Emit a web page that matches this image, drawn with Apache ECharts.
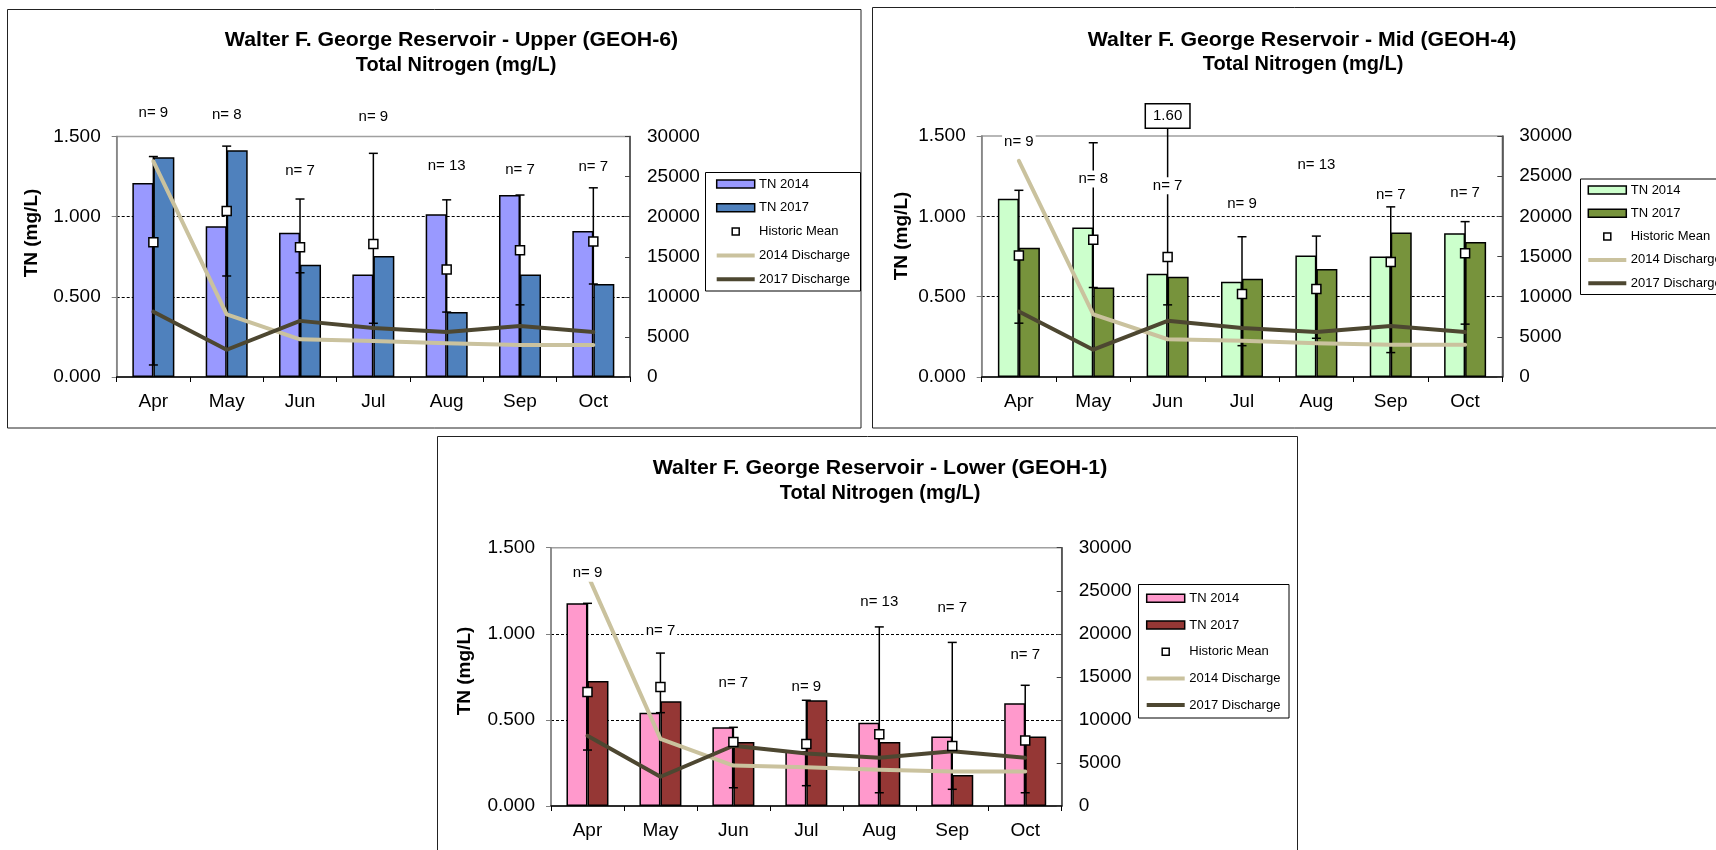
<!DOCTYPE html>
<html>
<head>
<meta charset="utf-8">
<title>Walter F. George Reservoir - Total Nitrogen</title>
<script src="https://cdn.jsdelivr.net/npm/echarts@6/dist/echarts.min.js"></script>
<style>
  html, body { margin: 0; padding: 0; background: #fff; }
  .layer { position: absolute; left: 0; top: 0; width: 1716px; height: 850px; }
</style>
</head>
<body>
<div id="upper" class="layer"></div>
<div id="mid" class="layer"></div>
<div id="lower" class="layer"></div>
<script>
// ---- shared categories and axis ticks ----
const months = ['Apr', 'May', 'Jun', 'Jul', 'Aug', 'Sep', 'Oct'];
const tnTicks = [0, 0.5, 1.0, 1.5];
const dischargeTicks = [0, 5000, 10000, 15000, 20000, 25000, 30000];
const seriesNames = ['TN 2014', 'TN 2017', 'Historic Mean', '2014 Discharge', '2017 Discharge'];

// ---- discharge (same for all three stations) ----
const discharge2014 = [26900, 7800, 4700, 4500, 4200, 4000, 4000];
const discharge2017 = [8150, 3400, 7000, 6100, 5600, 6350, 5600];

// ---- Upper (GEOH-6) ----
const upperTN2014 = [1.21, 0.94, 0.90, 0.64, 1.015, 1.135, 0.91];
const upperTN2017 = [1.37, 1.415, 0.70, 0.755, 0.405, 0.64, 0.58];
const upperMean = [0.84, 1.035, 0.81, 0.83, 0.67, 0.79, 0.845];
const upperMin = [0.075, 0.63, 0.65, 0.335, 0.405, 0.45, 0.58];
const upperMax = [1.375, 1.44, 1.11, 1.395, 1.105, 1.135, 1.18];
const upperN = [9, 8, 7, 9, 13, 7, 7];
const upperNLabelAt = [1.65, 1.635, 1.285, 1.62, 1.315, 1.29, 1.31];

// ---- Mid (GEOH-4) ----
const midTN2014 = [1.11, 0.93, 0.643, 0.593, 0.757, 0.75, 0.895];
const midTN2017 = [0.805, 0.557, 0.624, 0.611, 0.672, 0.90, 0.84];
const midMean = [0.757, 0.855, 0.747, 0.516, 0.547, 0.715, 0.77];
const midMin = [0.335, 0.557, 0.449, 0.195, 0.241, 0.152, 0.329];
const midMax = [1.162, 1.458, 1.60, 0.873, 0.877, 1.059, 0.967];
const midN = [9, 8, 7, 9, 13, 7, 7];
const midNLabelAt = [1.462, 1.233, 1.191, 1.077, 1.321, 1.135, 1.146];

// ---- Lower (GEOH-1) ----
const lowerTN2014 = [1.177, 0.542, 0.457, 0.319, 0.484, 0.403, 0.596];
const lowerTN2017 = [0.726, 0.608, 0.372, 0.614, 0.372, 0.18, 0.403];
const lowerMean = [0.662, 0.691, 0.372, 0.36, 0.416, 0.348, 0.381];
const lowerMin = [0.325, 0.542, 0.106, 0.118, 0.077, 0.097, 0.077];
const lowerMax = [1.177, 0.888, 0.457, 0.614, 1.04, 0.95, 0.701];
const lowerN = [9, 7, 7, 9, 13, 7, 7];
const lowerNLabelAt = [1.351, 1.018, 0.718, 0.689, 1.185, 1.148, 0.875];

const FONT = '"Liberation Sans", Arial, sans-serif';
const COLOR_D2014 = '#cac29e';
const COLOR_D2017 = '#4d4731';

function renderErrorBar(params, api) {
  const lo = api.coord([api.value(0), api.value(1)]);
  const hi = api.coord([api.value(0), api.value(2)]);
  const w = 4.5;
  const st = { stroke: '#000', lineWidth: 1.5 };
  return {
    type: 'group', silent: true,
    children: [
      { type: 'line', shape: { x1: lo[0], y1: lo[1], x2: hi[0], y2: hi[1] }, style: st },
      { type: 'line', shape: { x1: lo[0] - w, y1: lo[1], x2: lo[0] + w, y2: lo[1] }, style: st },
      { type: 'line', shape: { x1: hi[0] - w, y1: hi[1], x2: hi[0] + w, y2: hi[1] }, style: st }
    ]
  };
}

function renderCountLabel(params, api) {
  const c = api.coord([api.value(0), api.value(1)]);
  return {
    type: 'text', silent: true, x: c[0], y: c[1],
    style: {
      text: 'n= ' + api.value(2), fill: '#000', font: '15px ' + FONT,
      align: 'center', verticalAlign: 'middle', textAlign: 'center', textVerticalAlign: 'middle',
      backgroundColor: '#fff', padding: [1, 2]
    }
  };
}

function renderOverflowLabel(params, api) {
  const c = api.coord([api.value(0), api.value(1)]);
  return {
    type: 'text', silent: true, x: c[0], y: c[1] - 4,
    style: {
      text: api.value(1).toFixed(2), fill: '#000', font: '15px ' + FONT,
      align: 'center', verticalAlign: 'middle', textAlign: 'center', textVerticalAlign: 'middle',
      backgroundColor: '#fff', borderColor: '#000', borderWidth: 1.5, padding: [4, 7]
    }
  };
}

// Legend box drawn as graphic elements: swatch + label per series
function legendGraphics(p) {
  const L = p.legend;
  const out = [{
    type: 'rect', silent: true, z: 100,
    shape: { x: L.x, y: L.y, width: L.w, height: L.h },
    style: { fill: '#fff', stroke: '#000', lineWidth: 1 }
  }];
  const swatchW = 38;
  seriesNames.forEach((name, i) => {
    const cy = L.first + i * L.step;
    let mark;
    if (i < 2) {
      mark = { type: 'rect', shape: { x: L.sx, y: cy - 4, width: swatchW, height: 8 },
        style: { fill: i === 0 ? p.c2014 : p.c2017, stroke: '#000', lineWidth: 1.5 } };
    } else if (i === 2) {
      mark = { type: 'rect', shape: { x: L.sx + swatchW / 2 - 3.5, y: cy - 3.5, width: 7, height: 7 },
        style: { fill: '#fff', stroke: '#000', lineWidth: 1.5 } };
    } else {
      mark = { type: 'line', shape: { x1: L.sx, y1: cy, x2: L.sx + swatchW, y2: cy },
        style: { stroke: i === 3 ? COLOR_D2014 : COLOR_D2017, lineWidth: 4 } };
    }
    mark.silent = true; mark.z = 101;
    out.push(mark);
    out.push({
      type: 'text', silent: true, z: 101, x: L.tx, y: cy,
      style: { text: name, font: '13px ' + FONT, fill: '#000',
        align: 'left', verticalAlign: 'middle', textAlign: 'left', textVerticalAlign: 'middle' }
    });
  });
  return out;
}

function buildOption(p) {
  const tnMax = tnTicks[tnTicks.length - 1];
  const errData = months.map((m, i) => [i, p.min[i], p.max[i]]);
  const countData = months.map((m, i) => [i, p.nAt[i], p.n[i]]);
  const overflowData = [];
  p.max.forEach((v, i) => { if (v > tnMax) overflowData.push([i, v]); });

  return {
    animation: false,
    textStyle: { fontFamily: FONT },
    grid: {
      left: p.grid.x, top: p.grid.y, width: p.grid.w, height: p.grid.h,
      show: true, borderColor: '#a0a0a0', borderWidth: 1.5, backgroundColor: 'transparent'
    },
    xAxis: {
      type: 'category', data: months,
      axisLine: { lineStyle: { color: '#000', width: 1.5 } },
      axisTick: { show: true, length: 5, lineStyle: { color: '#000', width: 1 } },
      axisLabel: { color: '#000', fontSize: 19, fontFamily: FONT, margin: 15 },
      splitLine: { show: false }
    },
    yAxis: [
      {
        type: 'value', min: tnTicks[0], max: tnMax, interval: tnTicks[1] - tnTicks[0],
        axisLine: { show: true, lineStyle: { color: '#808080', width: 1.5 } },
        axisTick: { show: true, length: 5, lineStyle: { color: '#808080', width: 1 } },
        axisLabel: { color: '#000', fontSize: 19, fontFamily: FONT, margin: 16, formatter: v => v.toFixed(3) },
        splitLine: { show: true, showMinLine: false, showMaxLine: false, lineStyle: { color: '#000', type: [3, 2], width: 1 } }
      },
      {
        type: 'value', position: 'right',
        min: dischargeTicks[0], max: dischargeTicks[dischargeTicks.length - 1],
        interval: dischargeTicks[1] - dischargeTicks[0],
        axisLine: { show: true, lineStyle: { color: '#404040', width: 1.5 } },
        axisTick: { show: true, inside: true, length: 5, lineStyle: { color: '#404040', width: 1 } },
        axisLabel: { color: '#000', fontSize: 19, fontFamily: FONT, margin: 17, formatter: v => String(v) },
        splitLine: { show: false }
      }
    ],
    graphic: [
      { type: 'rect', silent: true, z: -10,
        shape: { x: p.box.x, y: p.box.y, width: p.box.w, height: p.box.h },
        style: { fill: 'none', stroke: '#222', lineWidth: 1 } },
      { type: 'text', silent: true, x: p.title.x1, y: p.title.y1, scaleX: 1.064,
        style: { text: p.title.line1, font: 'bold 20px ' + FONT, fill: '#000',
          align: 'center', verticalAlign: 'middle', textAlign: 'center', textVerticalAlign: 'middle' } },
      { type: 'text', silent: true, x: p.title.x2, y: p.title.y2,
        style: { text: 'Total Nitrogen (mg/L)', font: 'bold 20px ' + FONT, fill: '#000',
          align: 'center', verticalAlign: 'middle', textAlign: 'center', textVerticalAlign: 'middle' } },
      { type: 'text', silent: true, x: p.yName.x, y: p.yName.y, rotation: Math.PI / 2,
        style: { text: 'TN (mg/L)', font: 'bold 19px ' + FONT, fill: '#000',
          align: 'center', verticalAlign: 'middle', textAlign: 'center', textVerticalAlign: 'middle' } }
    ].concat(legendGraphics(p)),
    series: [
      { name: seriesNames[0], type: 'bar', data: p.tn2014, barWidth: 21, barGap: '0%', z: 2,
        itemStyle: { color: p.c2014, borderColor: '#000', borderWidth: 1.5 } },
      { name: seriesNames[1], type: 'bar', data: p.tn2017, barWidth: 21, barGap: '0%', z: 2,
        itemStyle: { color: p.c2017, borderColor: '#000', borderWidth: 1.5 } },
      { type: 'custom', data: errData, renderItem: renderErrorBar, z: 3, silent: true,
        encode: { x: 0, y: [1, 2] } },
      { name: seriesNames[3], type: 'line', yAxisIndex: 1, data: discharge2014, z: 4,
        symbol: 'none', showSymbol: false, smooth: false,
        itemStyle: { color: COLOR_D2014 },
        lineStyle: { color: COLOR_D2014, width: 4, join: 'round', cap: 'round' } },
      { name: seriesNames[4], type: 'line', yAxisIndex: 1, data: discharge2017, z: 4,
        symbol: 'none', showSymbol: false, smooth: false,
        itemStyle: { color: COLOR_D2017 },
        lineStyle: { color: COLOR_D2017, width: 4, join: 'round', cap: 'round' } },
      { name: seriesNames[2], type: 'scatter', data: p.mean, symbol: 'rect', symbolSize: 9, z: 5,
        itemStyle: { color: '#fff', borderColor: '#000', borderWidth: 1.5, opacity: 1 } },
      { type: 'custom', data: countData, renderItem: renderCountLabel, z: 6, silent: true,
        encode: { x: 0, y: 1 } },
      { type: 'custom', data: overflowData, renderItem: renderOverflowLabel, z: 7, silent: true,
        encode: { x: 0, y: 1 } }
    ]
  };
}

const panels = [
  {
    id: 'upper',
    tn2014: upperTN2014, tn2017: upperTN2017, mean: upperMean, min: upperMin, max: upperMax,
    n: upperN, nAt: upperNLabelAt, c2014: '#9999ff', c2017: '#4f81bd',
    grid: { x: 116.7, y: 136.5, w: 513.3, h: 240.5 },
    box: { x: 7.5, y: 9.5, w: 853.5, h: 418.5 },
    title: { x1: 451.5, x2: 456, y1: 40.5, y2: 65, line1: 'Walter F. George Reservoir - Upper (GEOH-6)' },
    yName: { x: 32, y: 233 },
    legend: { x: 705.5, y: 172.5, w: 155, h: 118.5, sx: 716.7, tx: 759, first: 184, step: 23.8 }
  },
  {
    id: 'mid',
    tn2014: midTN2014, tn2017: midTN2017, mean: midMean, min: midMin, max: midMax,
    n: midN, nAt: midNLabelAt, c2014: '#ccffcc', c2017: '#77933c',
    grid: { x: 981.7, y: 136, w: 520.6, h: 241 },
    box: { x: 872.5, y: 7.5, w: 860, h: 420.5 },
    title: { x1: 1302, x2: 1303, y1: 40.5, y2: 64.5, line1: 'Walter F. George Reservoir - Mid (GEOH-4)' },
    yName: { x: 901.7, y: 236 },
    legend: { x: 1580.5, y: 179, w: 200, h: 115.5, sx: 1588.3, tx: 1630.7, first: 190, step: 23.3 }
  },
  {
    id: 'lower',
    tn2014: lowerTN2014, tn2017: lowerTN2017, mean: lowerMean, min: lowerMin, max: lowerMax,
    n: lowerN, nAt: lowerNLabelAt, c2014: '#ff99cc', c2017: '#953735',
    grid: { x: 551, y: 547.7, w: 510.7, h: 258.3 },
    box: { x: 437.5, y: 436.5, w: 860, h: 430 },
    title: { x1: 880, x2: 880, y1: 468.5, y2: 493.5, line1: 'Walter F. George Reservoir - Lower (GEOH-1)' },
    yName: { x: 465, y: 671 },
    legend: { x: 1138.5, y: 584.5, w: 150.5, h: 133.5, sx: 1146.7, tx: 1189.3, first: 598.3, step: 26.7 }
  }
];

panels.forEach(p => {
  const chart = echarts.init(document.getElementById(p.id), null, { renderer: 'canvas' });
  chart.setOption(buildOption(p));
});
</script>
</body>
</html>
